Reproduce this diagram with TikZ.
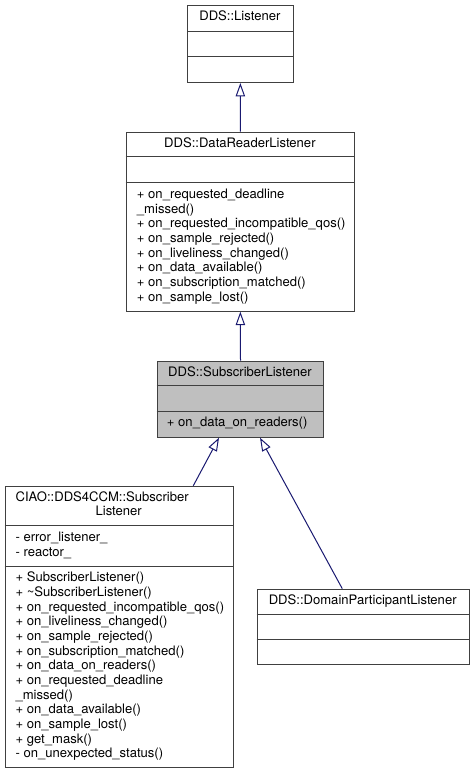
\documentclass[tikz,border=0pt]{standalone}
\usepackage{fontspec}
\setmainfont{TeX Gyre Heros}
\usetikzlibrary{arrows.meta}
\definecolor{randgrijs}{RGB}{64,64,64}
\definecolor{pijlblauw}{RGB}{25,25,112}
\definecolor{actiefgrijs}{RGB}{191,191,191}

\begin{document}
\begin{tikzpicture}[x=0.75pt, y=-0.75pt,
  klasse/.style={draw=randgrijs, line width=0.75pt, inner sep=0pt, anchor=north west},
  deel/.style={draw=randgrijs, line width=0.75pt},
  regels/.style={anchor=base west, inner sep=0pt, align=left, font=\fontsize{9.8}{11}\selectfont},
  titel/.style={anchor=base, inner sep=0pt, font=\fontsize{9.8}{11}\selectfont},
  erft/.style={draw=pijlblauw, line width=0.75pt, -{Triangle[open, fill=white, length=10pt, width=7pt]}}]
\useasboundingbox (0,0) rectangle (473,773);

% Klasse DDS::Listener
\node[klasse, minimum width=105.7*0.75pt, minimum height=76.7*0.75pt] (listener) at (187,5.3) {};
\draw[deel] (listener.west |- 0,31.3) -- (listener.east |- 0,31.3);
\draw[deel] (listener.west |- 0,56.7) -- (listener.east |- 0,56.7);
\node[titel] (listenerTitel) at (239.9,20.8) {DDS::Listener};

% Klasse DDS::DataReaderListener (basislijn = laatste regel)
\node[klasse, minimum width=228.3*0.75pt, minimum height=179*0.75pt] (reader) at (125.7,131.7) {};
\draw[deel] (reader.west |- 0,156.5) -- (reader.east |- 0,156.5);
\draw[deel] (reader.west |- 0,182.3) -- (reader.east |- 0,182.3);
\node[titel] (readerTitel) at (239.9,147.2) {DDS::DataReaderListener};
\node[regels] (readerOps) at (136.7,301) {+ on\_requested\_deadline\\\_missed()\\+ on\_requested\_incompatible\_qos()\\+ on\_sample\_rejected()\\+ on\_liveliness\_changed()\\+ on\_data\_available()\\+ on\_subscription\_matched()\\+ on\_sample\_lost()};

% Klasse DDS::SubscriberListener (grijs)
\node[klasse, fill=actiefgrijs, minimum width=166.6*0.75pt, minimum height=76*0.75pt] (sub) at (156.7,360.7) {};
\draw[deel] (sub.west |- 0,385.7) -- (sub.east |- 0,385.7);
\draw[deel] (sub.west |- 0,411.3) -- (sub.east |- 0,411.3);
\node[titel] (subTitel) at (240,376.2) {DDS::SubscriberListener};
\node[regels] (subOps) at (166.7,426.8) {+ on\_data\_on\_readers()};

% Klasse CIAO::DDS4CCM::SubscriberListener
\node[klasse, minimum width=228*0.75pt, minimum height=281*0.75pt] (ciao) at (4.7,485.7) {};
\draw[deel] (ciao.west |- 0,525.7) -- (ciao.east |- 0,525.7);
\draw[deel] (ciao.west |- 0,566) -- (ciao.east |- 0,566);
\node[regels] (ciaoTitel) at (15.3,501.2) {CIAO::DDS4CCM::Subscriber};
\node[titel] (ciaoTitel2) at (118.7,515.9) {Listener};
\node[regels] (ciaoAttr) at (15.3,556.2) {- error\_listener\_\\- reactor\_};
\node[regels] (ciaoOps) at (15.3,757.8) {+ SubscriberListener()\\+ \textasciitilde SubscriberListener()\\+ on\_requested\_incompatible\_qos()\\+ on\_liveliness\_changed()\\+ on\_sample\_rejected()\\+ on\_subscription\_matched()\\+ on\_data\_on\_readers()\\+ on\_requested\_deadline\\\_missed()\\+ on\_data\_available()\\+ on\_sample\_lost()\\+ get\_mask()\\- on\_unexpected\_status()};

% Klasse DDS::DomainParticipantListener
\node[klasse, minimum width=212*0.75pt, minimum height=75.6*0.75pt] (domain) at (256.7,588.7) {};
\draw[deel] (domain.west |- 0,614.3) -- (domain.east |- 0,614.3);
\draw[deel] (domain.west |- 0,639.3) -- (domain.east |- 0,639.3);
\node[titel] (domainTitel) at (362.7,604.2) {DDS::DomainParticipantListener};

% Overervingspijlen
\draw[erft] (reader.north) -- (listener.south);
\draw[erft] (sub.north) -- (reader.south);
\draw[erft] (ciao.north -| 193.3,0) -- (sub.south -| 219,0);
\draw[erft] (domain.north -| 342.3,0) -- (sub.south -| 260,0);
\end{tikzpicture}
\end{document}
